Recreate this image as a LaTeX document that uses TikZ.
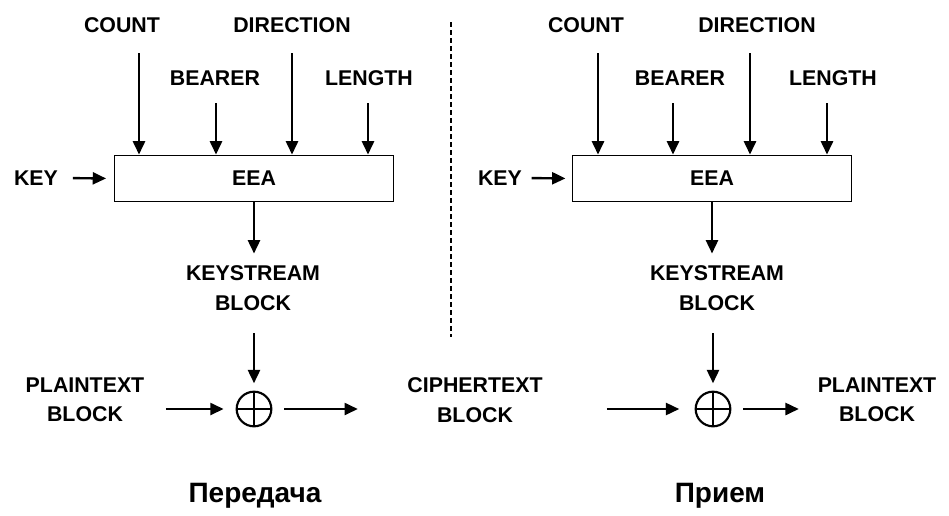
\documentclass[tikz,border=0pt]{standalone}
\usepackage{fontspec}
\setmainfont{Liberation Sans}
\usetikzlibrary{arrows.meta}

\begin{document}
\begin{tikzpicture}[x=0.75pt, y=-0.75pt,
    lbl/.style={font=\fontsize{16}{22}\selectfont\bfseries, align=center, inner sep=0pt},
    eea/.style={draw, line width=0.9pt, minimum width=209pt, minimum height=35pt, inner sep=0pt,
        font=\fontsize{16}{22}\selectfont\bfseries},
    arr/.style={line width=1.8pt, -{Triangle[length=10pt, width=9pt]}},
    xor/.style={draw, circle, line width=1.6pt, minimum size=26pt, inner sep=0pt,
        path picture={\draw[line width=1.6pt]
            (path picture bounding box.north) -- (path picture bounding box.south)
            (path picture bounding box.west) -- (path picture bounding box.east);}},
    title/.style={font=\fontsize{21}{24}\selectfont\bfseries, inner sep=0pt}]
    \useasboundingbox (0,0) rectangle (949,515);

    % Transmitter side
    \node[lbl] (countL) at (122,25) {COUNT};
    \node[lbl] (dirL) at (292,25) {DIRECTION};
    \node[lbl] (bearerL) at (215,78) {BEARER};
    \node[lbl] (lengthL) at (369,78) {LENGTH};
    \node[eea] (eeaL) at (254,178.5) {EEA};
    \node[lbl] (keyL) at (36,178) {KEY};
    \node[lbl] (ksL) at (253,288) {KEYSTREAM\\BLOCK};
    \node[xor] (xorL) at (254,409) {};
    \node[lbl] (ptL) at (85,400) {PLAINTEXT\\BLOCK};
    \node[title] (txL) at (255,496) {Передача};

    % Inputs to EEA
    \coordinate (cntL) at (139,53);
    \coordinate (brL) at (216,103);
    \coordinate (drL) at (292,53);
    \coordinate (lnL) at (368,103);
    \draw[arr] (cntL) -- (cntL |- eeaL.north);
    \draw[arr] (brL) -- (brL |- eeaL.north);
    \draw[arr] (drL) -- (drL |- eeaL.north);
    \draw[arr] (lnL) -- (lnL |- eeaL.north);
    \draw[arr, shorten <=11pt, shorten >=6pt] (keyL.east) -- (eeaL.west);

    % Keystream and XOR
    \draw[arr, shorten >=9pt] (eeaL.south) -- (eeaL.south |- ksL.north);
    \draw[arr, shorten <=17pt, shorten >=5.5pt] (xorL |- ksL.south) -- (xorL.north);
    \draw[arr, shorten <=16pt, shorten >=9pt] (ptL.east |- xorL) -- (xorL.west);

    % Ciphertext in the middle
    \node[lbl] (ct) at (475,400) {CIPHERTEXT\\BLOCK};
    \draw[arr, shorten <=9pt, shorten >=37pt] (xorL.east) -- (ct.west |- xorL);
    \draw[line width=1.8pt, dash pattern=on 4pt off 2pt] (451,22) -- (451,337);

    % Receiver side
    \node[lbl] (countR) at (586,25) {COUNT};
    \node[lbl] (dirR) at (757,25) {DIRECTION};
    \node[lbl] (bearerR) at (680,78) {BEARER};
    \node[lbl] (lengthR) at (833,78) {LENGTH};
    \node[eea] (eeaR) at (712,178.5) {EEA};
    \node[lbl] (keyR) at (500,178) {KEY};
    \node[lbl] (ksR) at (717,288) {KEYSTREAM\\BLOCK};
    \node[xor] (xorR) at (713,409) {};
    \node[lbl] (ptR) at (877,400) {PLAINTEXT\\BLOCK};
    \node[title] (rxR) at (720,496) {Прием};

    \coordinate (cntR) at (598,53);
    \coordinate (brR) at (673,103);
    \coordinate (drR) at (750,53);
    \coordinate (lnR) at (827,103);
    \draw[arr] (cntR) -- (cntR |- eeaR.north);
    \draw[arr] (brR) -- (brR |- eeaR.north);
    \draw[arr] (drR) -- (drR |- eeaR.north);
    \draw[arr] (lnR) -- (lnR |- eeaR.north);
    \draw[arr, shorten <=7pt, shorten >=5pt] (keyR.east) -- (eeaR.west);

    \draw[arr, shorten >=9pt] (eeaR.south) -- (eeaR.south |- ksR.north);
    \draw[arr, shorten <=17pt, shorten >=5.5pt] (xorR |- ksR.south) -- (xorR.north);
    \draw[arr, shorten <=48pt, shorten >=11.5pt] (ct.east |- xorR) -- (xorR.west);
    \draw[arr, shorten <=9pt, shorten >=14pt] (xorR.east) -- (ptR.west |- xorR);
\end{tikzpicture}
\end{document}
